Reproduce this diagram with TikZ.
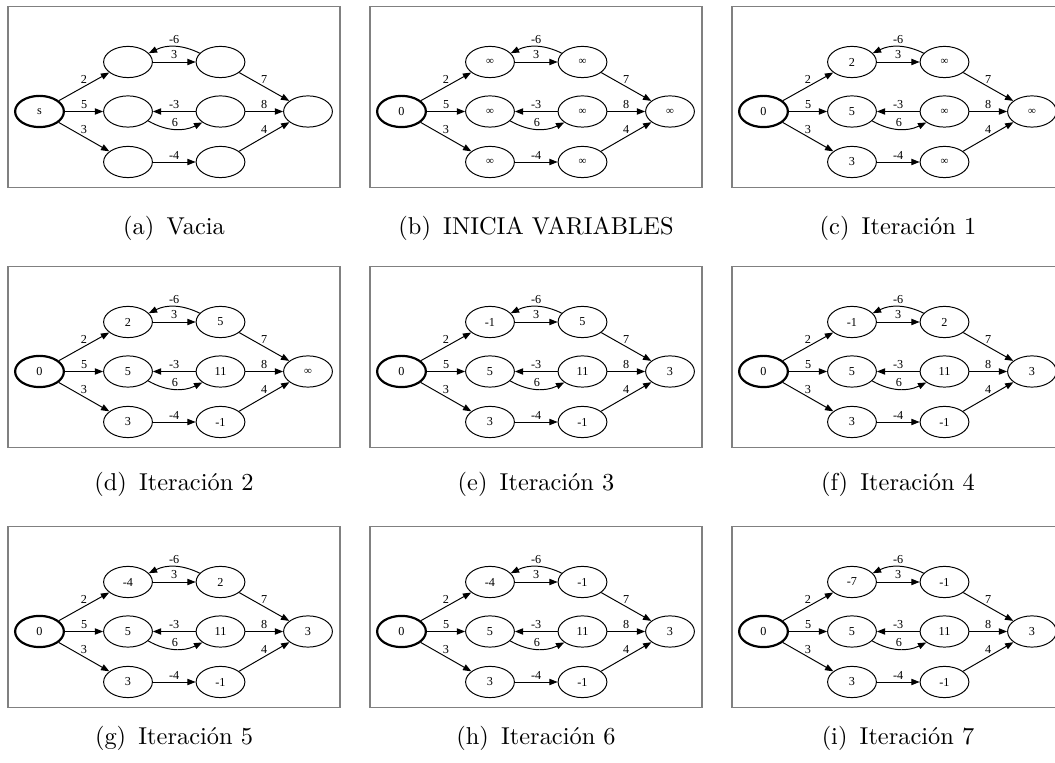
\documentclass[tikz,border=0pt]{standalone}
\usepackage{fontspec}
\usetikzlibrary{arrows.meta,shapes.geometric}
\newfontfamily\gvfont{Liberation Serif}
\newcommand{\infi}{{\fontsize{4.5}{5}\selectfont ∞}}

\begin{document}
\begin{tikzpicture}[x=0.41pt,y=-0.41pt]
\tikzstyle{estado}=[ellipse,draw,line width=0.4pt,minimum width=20pt,minimum height=12.8pt,inner sep=0pt,font=\gvfont\fontsize{5}{6}\selectfont]
\tikzstyle{origen}=[estado,line width=0.9pt]
\tikzstyle{arista}=[-{Triangle[length=3.4pt,width=2.6pt]},line width=0.4pt]
\tikzstyle{peso}=[font=\gvfont\fontsize{5}{6}\selectfont,inner sep=1pt]
\tikzstyle{marco}=[draw=gray,line width=0.6pt]
\tikzstyle{titulo}=[anchor=base,inner sep=0pt]

\clip (0,0) rectangle (1055,763);

% one panel per step of the algorithm
\foreach \pid/\px/\py/\cy/\ls/\lta/\ltb/\lma/\lmb/\lba/\lbb/\lk/\ttl in {
  a/8/6.5/235/s/{}/{}/{}/{}/{}/{}/{}/{(a)\enspace Vacia},
  b/370/6.5/235/0/\infi/\infi/\infi/\infi/\infi/\infi/\infi/{(b)\enspace INICIA VARIABLES},
  c/732/6.5/235/0/2/\infi/5/\infi/3/\infi/\infi/{(c)\enspace Iteración 1},
  d/8/266.5/491/0/2/5/5/11/3/-1/\infi/{(d)\enspace Iteración 2},
  e/370/266.5/491/0/-1/5/5/11/3/-1/3/{(e)\enspace Iteración 3},
  f/732/266.5/491/0/-1/2/5/11/3/-1/3/{(f)\enspace Iteración 4},
  g/8/526.5/745/0/-4/2/5/11/3/-1/3/{(g)\enspace Iteración 5},
  h/370/526.5/745/0/-4/-1/5/11/3/-1/3/{(h)\enspace Iteración 6},
  i/732/526.5/745/0/-7/-1/5/11/3/-1/3/{(i)\enspace Iteración 7}} {
\begin{scope}[shift={(\px,\py)}]
\draw[marco] (0,0) rectangle (332,181);

\node[origen] (s\pid) at (31.5,105) {\ls};
\node[estado] (ta\pid) at (120,55.5) {\lta};
\node[estado] (tb\pid) at (212.5,55.5) {\ltb};
\node[estado] (ma\pid) at (120,105) {\lma};
\node[estado] (mb\pid) at (212.5,105) {\lmb};
\node[estado] (ba\pid) at (120,155.5) {\lba};
\node[estado] (bb\pid) at (212.5,155.5) {\lbb};
\node[estado] (k\pid) at (300,105) {\lk};

\draw[arista] (s\pid) -- node[peso,above] {2} (ta\pid);
\draw[arista] (s\pid) -- node[peso,above] {5} (ma\pid);
\draw[arista] (s\pid) -- node[peso,above] {3} (ba\pid);
\draw[arista] (ta\pid) -- node[peso,above] {3} (tb\pid);
\draw[arista] (tb\pid.157) to[bend right=26] node[peso,above] {-6} (ta\pid.23);
\draw[arista] (mb\pid) -- node[peso,above] {-3} (ma\pid);
\draw[arista] (ma\pid.-25) to[bend right=28] node[peso,above] {6} (mb\pid.-149);
\draw[arista] (ba\pid) -- node[peso,above] {-4} (bb\pid);
\draw[arista] (tb\pid) -- node[peso,above] {7} (k\pid);
\draw[arista] (mb\pid) -- node[peso,above] {8} (k\pid);
\draw[arista] (bb\pid) -- node[peso,above] {4} (k\pid);
\end{scope}
\node[titulo] (cap\pid) at (\px+166,\cy) {\ttl};
}

\end{tikzpicture}
\end{document}
